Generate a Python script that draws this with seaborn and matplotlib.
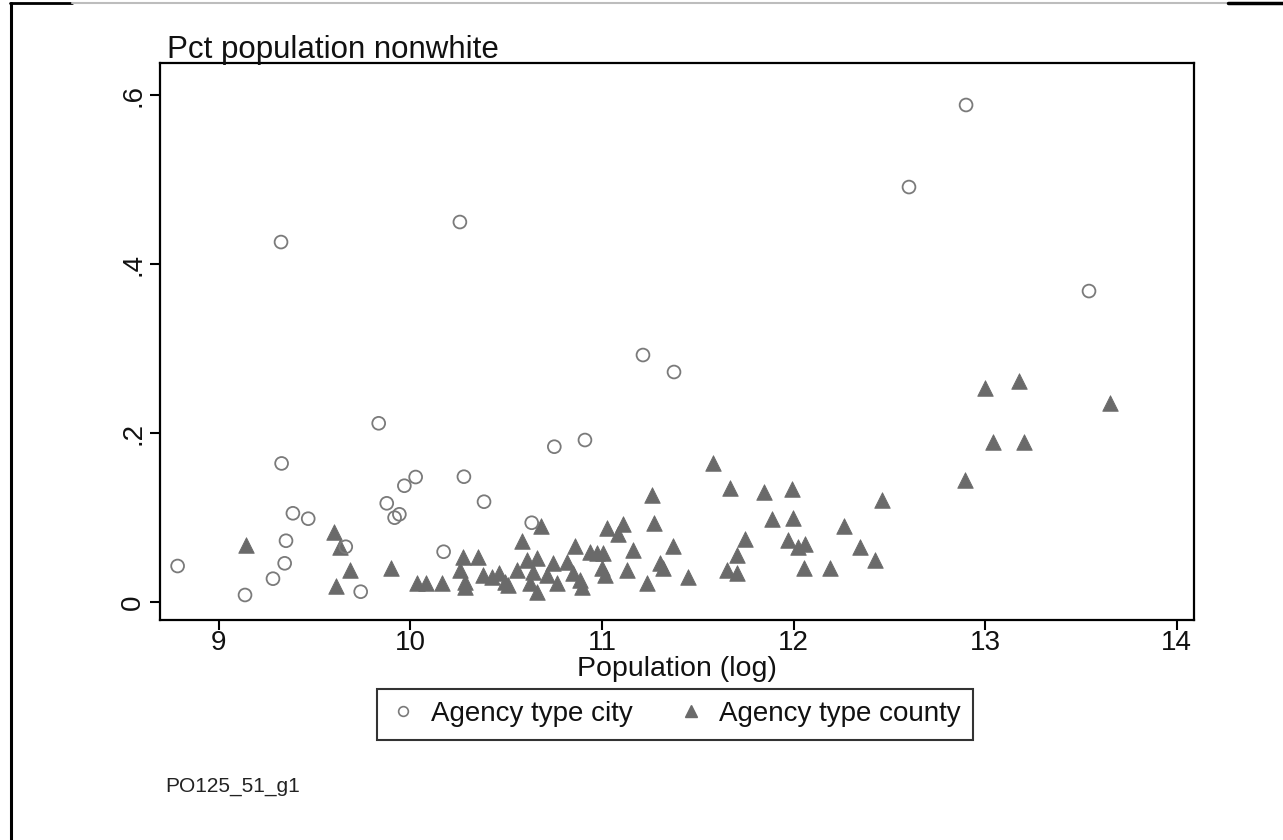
import numpy as np
import pandas as pd
import matplotlib
matplotlib.use("Agg")
import matplotlib.pyplot as plt
from matplotlib.lines import Line2D
import seaborn as sns

# Agency type city: log population vs share of population nonwhite
city_logpop = [8.784, 9.136, 9.282, 9.343, 9.350, 9.327, 9.324, 9.386, 9.466, 9.662,
               9.740, 9.834, 9.876, 9.917, 9.942, 9.968, 10.027, 10.173, 10.279, 10.258,
               10.384, 10.633, 10.751, 10.911, 11.214, 11.376, 12.603, 12.901, 13.543]
city_nonwhite = [0.0426, 0.0083, 0.0276, 0.0458, 0.0725, 0.164, 0.426, 0.105, 0.0986, 0.0654,
                 0.0122, 0.2115, 0.1168, 0.0998, 0.1038, 0.1376, 0.1479, 0.0595, 0.1483, 0.4497,
                 0.1187, 0.0938, 0.1838, 0.1917, 0.2923, 0.2722, 0.4911, 0.5882, 0.368]

# Agency type county
county_logpop = [9.141, 9.602, 9.632, 9.684, 9.609, 9.898, 10.032, 10.081, 10.163, 10.276,
                 10.354, 10.258, 10.285, 10.285, 10.380, 10.424, 10.464, 10.493, 10.511, 10.555,
                 10.581, 10.607, 10.662, 10.638, 10.624, 10.662, 10.711, 10.743, 10.763, 10.816,
                 10.850, 10.885, 10.894, 10.680, 10.859, 10.937, 10.972, 11.007, 10.998, 11.016,
                 11.025, 11.111, 11.082, 11.163, 11.129, 11.233, 11.260, 11.272, 11.303, 11.320,
                 11.369, 11.451, 11.581, 11.668, 11.651, 11.707, 11.703, 11.747, 11.846, 11.886,
                 11.991, 11.999, 11.973, 12.025, 12.060, 12.056, 12.191, 12.264, 12.347, 12.426,
                 12.461, 12.897, 13.043, 13.205, 13.653, 13.000, 13.180]
county_nonwhite = [0.0675, 0.0832, 0.0654, 0.0379, 0.0193, 0.0406, 0.0228, 0.0221, 0.0221, 0.0527,
                   0.0533, 0.0379, 0.0240, 0.0178, 0.0320, 0.0299, 0.0340, 0.0240, 0.0201, 0.0379,
                   0.0722, 0.0497, 0.0517, 0.0359, 0.0221, 0.0122, 0.0320, 0.0458, 0.0221, 0.0477,
                   0.0340, 0.0260, 0.0181, 0.0899, 0.0663, 0.0595, 0.0576, 0.0576, 0.0399, 0.0320,
                   0.0872, 0.0920, 0.0801, 0.0615, 0.0379, 0.0228, 0.1266, 0.0931, 0.0458, 0.0399,
                   0.0663, 0.0299, 0.1649, 0.1346, 0.0379, 0.0340, 0.0556, 0.0742, 0.1305, 0.0979,
                   0.1334, 0.0991, 0.0734, 0.0654, 0.0686, 0.0399, 0.0399, 0.0899, 0.0654, 0.0497,
                   0.1207, 0.1444, 0.1897, 0.1897, 0.2355, 0.2530, 0.2620]

x_ticks = [9, 10, 11, 12, 13, 14]
y_ticks = [0, 0.2, 0.4, 0.6]
y_tick_labels = ["0", ".2", ".4", ".6"]

city = pd.DataFrame({"logpop": city_logpop, "nonwhite": city_nonwhite})
county = pd.DataFrame({"logpop": county_logpop, "nonwhite": county_nonwhite})

sns.set_theme(style="white")
plt.rcParams["font.family"] = ["Liberation Sans", "DejaVu Sans"]

fig = plt.figure(figsize=(12.83, 8.40), dpi=100)
ax = fig.add_axes([0.1247, 0.2619, 0.8059, 0.6631])

grey_fill = "#6a6a6a"
grey_edge = "#7a7a7a"

sns.scatterplot(data=county, x="logpop", y="nonwhite", ax=ax, marker="^",
                s=125, color=grey_fill, edgecolor=grey_fill, linewidth=0.6, zorder=3)
sns.scatterplot(data=city, x="logpop", y="nonwhite", ax=ax, marker="o",
                s=85, facecolors="none", edgecolor=grey_edge, linewidth=1.3, zorder=4)
ax.collections[-1].set_facecolor("none")

ax.set_xlim(8.692, 14.091)
ax.set_ylim(-0.0213, 0.6379)
ax.set_xticks(x_ticks)
ax.set_xticklabels([str(t) for t in x_ticks])
ax.set_yticks(y_ticks)
ax.set_yticklabels(y_tick_labels, rotation=90, va="center")
ax.tick_params(axis="both", which="major", direction="out", length=7, width=1.5,
               color="black", labelsize=20, labelcolor="#111111", bottom=True, left=True)
ax.tick_params(axis="x", pad=0)
ax.tick_params(axis="y", pad=3)
for sp in ax.spines.values():
    sp.set_visible(True)
    sp.set_color("black")
    sp.set_linewidth(1.6)

ax.set_xlabel("Population (log)", fontsize=20.5, color="#111111", labelpad=0.5)
ax.set_ylabel("")

fig.text(167 / 1283, 1 - 50 / 840, "Pct population nonwhite", fontsize=22.5,
         color="#111111", ha="left", va="center")

handles = [
    Line2D([], [], linestyle="none", marker="o", markersize=7, markerfacecolor="none",
           markeredgecolor=grey_edge, markeredgewidth=1.2),
    Line2D([], [], linestyle="none", marker="^", markersize=8, markerfacecolor=grey_fill,
           markeredgecolor=grey_fill),
]
leg = fig.legend(handles, ["Agency type city", "Agency type county"], ncol=2,
                 loc="center", bbox_to_anchor=(675 / 1283, 1 - 714 / 840),
                 fontsize=20, frameon=True, fancybox=False, handlelength=1.0,
                 handletextpad=0.5, columnspacing=1.6, borderpad=0.45)
leg.get_frame().set_edgecolor("black")
leg.get_frame().set_linewidth(1.5)
for t in leg.get_texts():
    t.set_color("#111111")

fig.text(165 / 1283, 1 - 786 / 840, "PO125_51_g1", fontsize=15, color="#222222",
         ha="left", va="center")

# page border lines
fig.add_artist(Line2D([10.5 / 1283, 10.5 / 1283], [0, 1 - 3 / 840], color="black",
                      linewidth=2.2, transform=fig.transFigure))
fig.add_artist(Line2D([10 / 1283, 72 / 1283], [1 - 2.5 / 840, 1 - 2.5 / 840], color="black",
                      linewidth=2, transform=fig.transFigure))
fig.add_artist(Line2D([72 / 1283, 1228 / 1283], [1 - 2.5 / 840, 1 - 2.5 / 840], color="#bdbdbd",
                      linewidth=1.5, transform=fig.transFigure))
fig.add_artist(Line2D([1228 / 1283, 1], [1 - 2.5 / 840, 1 - 2.5 / 840], color="black",
                      linewidth=2.5, transform=fig.transFigure))

fig.savefig("out.png", dpi=100, facecolor="white")
